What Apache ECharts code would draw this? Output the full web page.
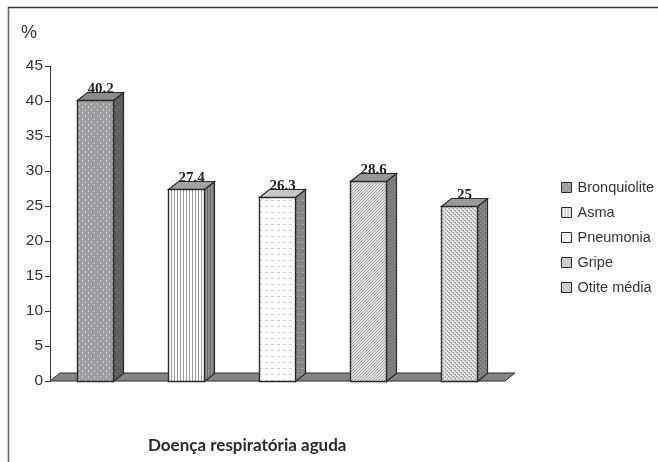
<!DOCTYPE html>
<html>
<head>
<meta charset="utf-8">
<style>
	html, body { margin: 0; padding: 0; background: #fff; }
	#chart { width: 658px; height: 462px; }
</style>
<script src="https://cdn.jsdelivr.net/npm/echarts@6/dist/echarts.min.js"></script>
</head>
<body>
<div id="chart"></div>
<script>
	const categories = ['Bronquiolite', 'Asma', 'Pneumonia', 'Gripe', 'Otite média']
	const values = [40.2, 27.4, 26.3, 28.6, 25]
	const yTicks = { min: 0, max: 45, interval: 5 }

	const edge = '#2a2a2a'
	const depthX = 10
	const depthY = 8

	// small repeating tiles standing in for the print hatching
	const tile = (w, h, bg, fg, cells) => {
		const c = document.createElement('canvas')
		c.width = w
		c.height = h
		const ctx = c.getContext('2d')
		ctx.fillStyle = bg
		ctx.fillRect(0, 0, w, h)
		ctx.fillStyle = fg
		cells.forEach(r => ctx.fillRect(r[0], r[1], r[2], r[3]))
		return { image: c, repeat: 'repeat' }
	}
	const diag = (bg, fg) => tile(3, 3, bg, fg, [[0, 2, 1, 1], [1, 1, 1, 1], [2, 0, 1, 1]])
	const dots = (bg, fg) => tile(4, 4, bg, fg, [[0, 0, 2, 1], [2, 2, 2, 1], [1, 1, 1, 1], [3, 3, 1, 1]])

	const looks = [
		{
			front: tile(6, 6, '#9e9ea2', '#c8c8ca', [[1, 1, 1, 2], [4, 4, 1, 2]]),
			side: tile(6, 6, '#5c5c5c', '#727272', [[1, 1, 1, 2], [4, 4, 1, 2]]),
			top: '#8b8b8b'
		},
		{
			front: tile(3, 3, '#ffffff', '#9a9a9a', [[0, 0, 1, 3]]),
			side: tile(3, 3, '#8c8c8c', '#6a6a6a', [[0, 0, 1, 3]]),
			top: '#a3a3a3'
		},
		{
			front: tile(6, 6, '#ffffff', '#cfcfcf', [[1, 2, 3, 1]]),
			side: tile(6, 6, '#858585', '#a0a0a0', [[1, 2, 3, 1]]),
			top: '#c6c6c6'
		},
		{
			front: diag('#e0e0e0', '#a6a6a6'),
			side: diag('#868686', '#6c6c6c'),
			top: '#979797'
		},
		{
			front: dots('#e4e4e4', '#a8a8a8'),
			side: dots('#8a8a8a', '#6e6e6e'),
			top: '#999999'
		}
	]

	const renderFloor = (params, api) => {
		const cs = params.coordSys
		const y = api.coord([0, 0])[1]
		const x0 = cs.x
		const x1 = cs.x + cs.width
		return {
			type: 'polygon',
			shape: { points: [[x0, y], [x1, y], [x1 + depthX, y - depthY], [x0 + depthX, y - depthY]] },
			style: { fill: '#858585', stroke: edge, lineWidth: 1 }
		}
	}

	const renderBar = (i) => (params, api) => {
		const top = api.coord([api.value(0), api.value(1)])
		const base = api.coord([api.value(0), 0])
		const w = api.size([1, 0])[0] * 0.4
		const x0 = Math.round(top[0] - w / 2) + 0.5
		const x1 = x0 + Math.round(w)
		const yT = Math.round(top[1]) + 0.5
		const yB = Math.round(base[1]) + 0.5
		const look = looks[i]
		return {
			type: 'group',
			children: [
				{
					type: 'polygon',
					shape: { points: [[x1, yT], [x1 + depthX, yT - depthY], [x1 + depthX, yB - depthY], [x1, yB]] },
					style: { fill: look.side, stroke: edge, lineWidth: 1.2 }
				},
				{
					type: 'polygon',
					shape: { points: [[x0, yT], [x0 + depthX, yT - depthY], [x1 + depthX, yT - depthY], [x1, yT]] },
					style: { fill: look.top, stroke: edge, lineWidth: 1.2 }
				},
				{
					type: 'polygon',
					shape: { points: [[x0, yT], [x1, yT], [x1, yB], [x0, yB]] },
					style: { fill: look.front, stroke: edge, lineWidth: 1.4 }
				},
				{
					type: 'text',
					style: {
						text: String(api.value(1)),
						x: top[0] + 5,
						y: yT - 4,
						align: 'center',
						verticalAlign: 'bottom',
						font: 'bold 15px "Liberation Serif"',
						fill: '#222'
					}
				}
			]
		}
	}

	const chart = echarts.init(document.getElementById('chart'), null, { renderer: 'canvas' })

	chart.setOption({
		animation: false,
		backgroundColor: '#fff',
		title: [
			{
				text: '%',
				left: 21,
				top: 24,
				padding: 0,
				textStyle: { fontFamily: 'Liberation Sans', fontSize: 18, fontWeight: 'normal', color: '#333' }
			},
			{
				text: 'Doença respiratória aguda',
				left: 148,
				top: 437,
				padding: 0,
				textStyle: { fontFamily: 'Lato', fontSize: 17, fontWeight: 'bold', color: '#2a2a2a' }
			}
		],
		grid: { left: 50, top: 66, width: 455, height: 315 },
		xAxis: {
			type: 'category',
			data: categories,
			axisLine: { show: false },
			axisTick: { show: false },
			axisLabel: { show: false },
			splitLine: { show: false }
		},
		yAxis: {
			type: 'value',
			min: yTicks.min,
			max: yTicks.max,
			interval: yTicks.interval,
			axisLine: { show: true, lineStyle: { color: '#333', width: 1 } },
			axisTick: { show: true, length: 5, lineStyle: { color: '#333' } },
			axisLabel: { margin: 7, fontFamily: 'Liberation Sans', fontSize: 15.5, color: '#333' },
			splitLine: { show: false }
		},
		legend: {
			orient: 'vertical',
			left: 561,
			top: 179,
			padding: 0,
			itemWidth: 10,
			itemHeight: 10,
			itemGap: 8,
			selectedMode: false,
			textStyle: { fontFamily: 'Liberation Sans', fontSize: 14.5, lineHeight: 17, color: '#333', padding: [0, 0, 0, 1] },
			data: categories.map((name, i) => ({
				name,
				icon: 'rect',
				itemStyle: { color: looks[i].front, borderColor: edge, borderWidth: 1 }
			}))
		},
		graphic: [
			{
				type: 'line',
				shape: { x1: 8.5, y1: 462, x2: 8.5, y2: 7 },
				style: { stroke: '#666', lineWidth: 1.6 }
			},
			{
				type: 'line',
				shape: { x1: 8, y1: 7.5, x2: 658, y2: 7.5 },
				style: { stroke: '#333', lineWidth: 1.5 }
			}
		],
		series: [
			{
				name: 'floor',
				type: 'custom',
				silent: true,
				z: 1,
				clip: false,
				renderItem: renderFloor,
				encode: { x: 0, y: 1 },
				data: [[0, 0]]
			}
		].concat(categories.map((name, i) => ({
			name,
			type: 'custom',
			silent: true,
			z: 2,
			clip: false,
			renderItem: renderBar(i),
			encode: { x: 0, y: 1 },
			data: [[i, values[i]]]
		})))
	})
</script>
</body>
</html>
